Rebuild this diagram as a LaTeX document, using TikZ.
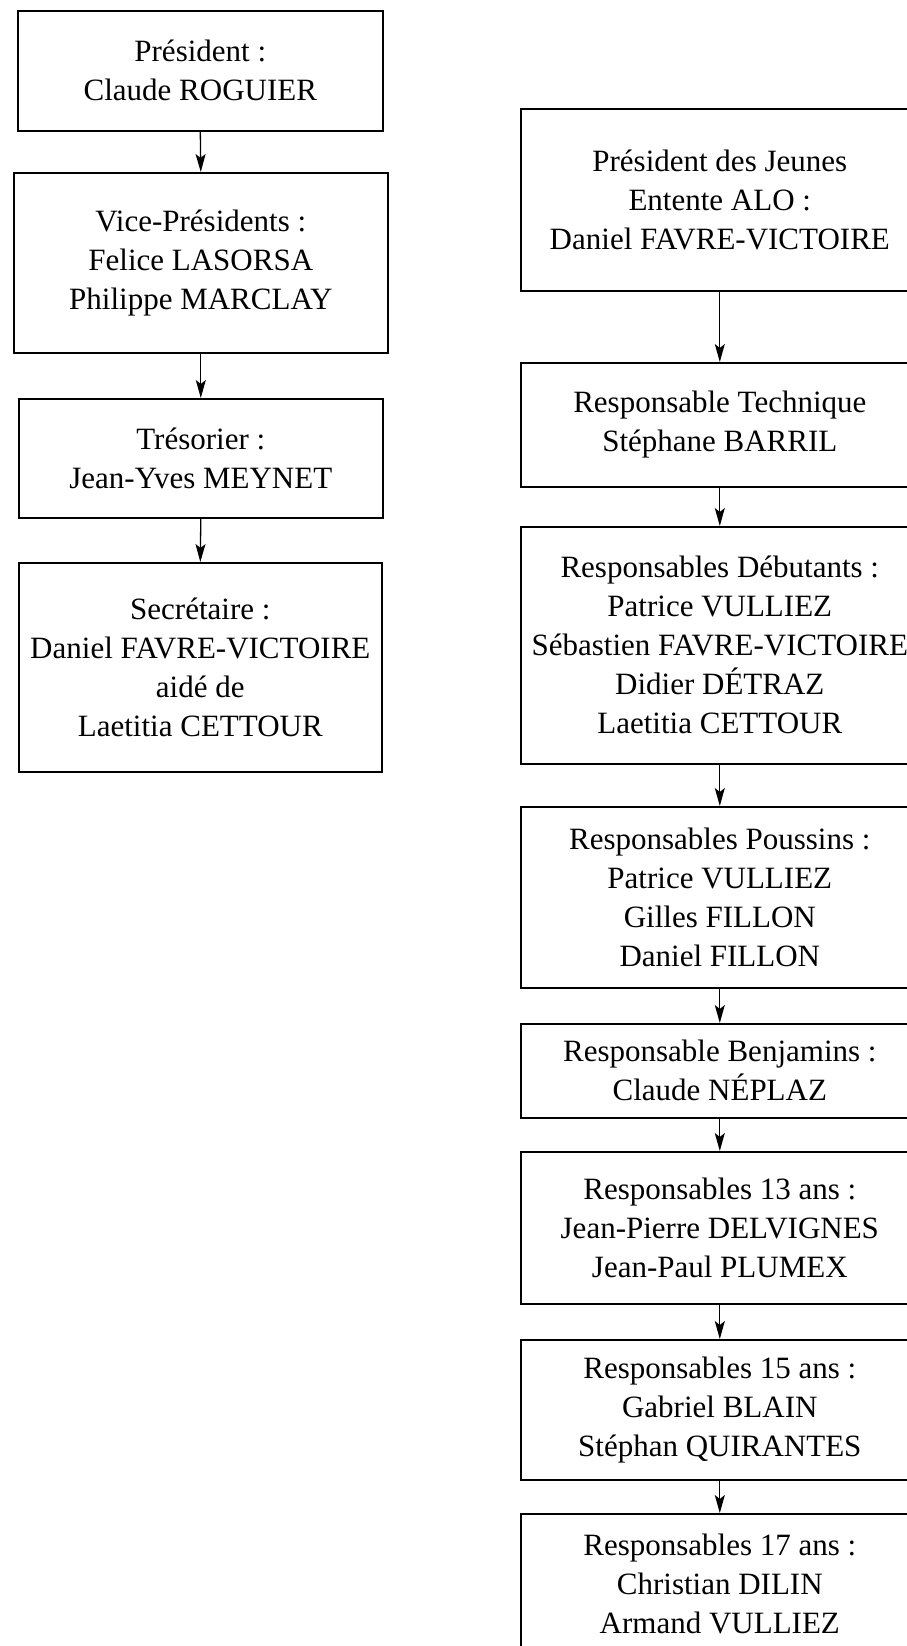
\documentclass[tikz,border=0pt]{standalone}
\usepackage{fontspec}
\setmainfont{Liberation Serif}
\usetikzlibrary{arrows.meta}
\begin{document}
\begin{tikzpicture}[x=1pt,y=-1pt,
  box/.style={draw=black, line width=1.6pt, rectangle, anchor=north west,
    align=center, inner sep=0pt, font=\fontsize{31}{39}\selectfont},
  link/.style={line width=1.3pt, -{Stealth[length=18pt,width=10pt,inset=4pt]}}]
\path[use as bounding box, fill=white] (0,0) rectangle (907,1646);
\clip (0,0) rectangle (907,1646);
% left column
\node[box, minimum width=365pt, minimum height=120pt] (l1) at (17,10) {Président :\\Claude ROGUIER};
\node[box, minimum width=374pt, minimum height=180pt] (l2) at (13,172) {Vice-Présidents :\\Felice LASORSA\\Philippe MARCLAY};
\node[box, minimum width=364pt, minimum height=119pt] (l3) at (18,398) {Trésorier :\\Jean-Yves MEYNET};
\node[box, minimum width=363pt, minimum height=209pt] (l4) at (18,562) {Secrétaire :\\Daniel FAVRE-VICTOIRE\\aidé de\\Laetitia CETTOUR};
% right column
\node[box, minimum width=398pt, minimum height=182pt] (r1) at (520,108) {Président des Jeunes\\Entente ALO :\\Daniel FAVRE-VICTOIRE};
\node[box, minimum width=398pt, minimum height=124pt] (r2) at (520,362) {Responsable Technique\\Stéphane BARRIL};
\node[box, minimum width=398pt, minimum height=237pt] (r3) at (520,526) {Responsables Débutants :\\Patrice VULLIEZ\\Sébastien FAVRE-VICTOIRE\\Didier DÉTRAZ\\Laetitia CETTOUR};
\node[box, minimum width=398pt, minimum height=181pt] (r4) at (520,806) {Responsables Poussins :\\Patrice VULLIEZ\\Gilles FILLON\\Daniel FILLON};
\node[box, minimum width=398pt, minimum height=94pt] (r5) at (520,1023) {Responsable Benjamins :\\Claude NÉPLAZ};
\node[box, minimum width=398pt, minimum height=152pt] (r6) at (520,1151) {Responsables 13 ans :\\Jean-Pierre DELVIGNES\\Jean-Paul PLUMEX};
\node[box, minimum width=398pt, minimum height=140pt] (r7) at (520,1339) {Responsables 15 ans :\\Gabriel BLAIN\\Stéphan QUIRANTES};
\node[box, minimum width=398pt, minimum height=140pt] (r8) at (520,1513) {Responsables 17 ans :\\Christian DILIN\\Armand VULLIEZ};
% connectors
\draw[link] (l1.south) -- (l2.north);
\draw[link] (l2.south) -- (l3.north);
\draw[link] (l3.south) -- (l4.north);
\draw[link] (r1.south) -- (r2.north);
\draw[link] (r2.south) -- (r3.north);
\draw[link] (r3.south) -- (r4.north);
\draw[link] (r4.south) -- (r5.north);
\draw[link] (r5.south) -- (r6.north);
\draw[link] (r6.south) -- (r7.north);
\draw[link] (r7.south) -- (r8.north);
\end{tikzpicture}
\end{document}
